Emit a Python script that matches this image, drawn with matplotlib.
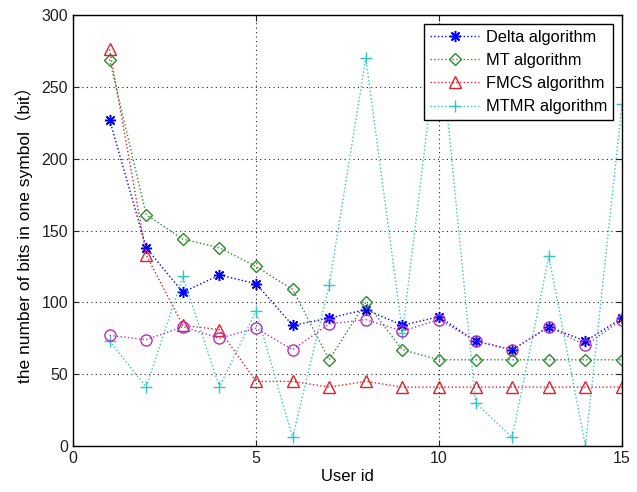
import matplotlib
matplotlib.use("Agg")
import matplotlib.pyplot as plt

user_ids = list(range(1, 16))

delta = [227, 138, 107, 119, 113, 84, 89, 95, 84, 90, 73, 67, 83, 73, 89]
mt = [269, 161, 144, 138, 125, 109, 60, 100, 67, 60, 60, 60, 60, 60, 60]
fmcs = [276, 133, 84, 81, 45, 45, 41, 45, 41, 41, 41, 41, 41, 41, 41]
mtmr = [73, 41, 118, 41, 94, 6, 112, 270, 79, 290, 30, 6, 132, 0, 238]
extra = [77, 74, 83, 75, 82, 67, 85, 88, 80, 88, 73, 67, 83, 70, 88]

series_names = ["Delta algorithm", "MT algorithm", "FMCS algorithm", "MTMR algorithm"]
x_ticks = [0, 5, 10, 15]
y_ticks = [0, 50, 100, 150, 200, 250, 300]

plt.rcParams["font.family"] = ["Liberation Sans", "Noto Sans CJK SC", "DejaVu Sans"]

fig = plt.figure(figsize=(6.37, 4.92), dpi=100)
ax = fig.add_axes([0.1146, 0.0935, 0.8619, 0.876])

asterisk = (8, 2, 0)
ax.plot(user_ids, delta, linestyle=":", color="#0000ff", marker=asterisk, markersize=8,
        markeredgewidth=1.1, linewidth=1, label=series_names[0])
ax.plot(user_ids, mt, linestyle=":", color="#2e8b2e", marker="D", markersize=6,
        markerfacecolor="none", linewidth=1, label=series_names[1])
ax.plot(user_ids, fmcs, linestyle=":", color="#e0202a", marker="^", markersize=9,
        markerfacecolor="none", linewidth=1, label=series_names[2])
ax.plot(user_ids, mtmr, linestyle=":", color="#33c4c4", marker="+", markersize=9,
        linewidth=1, label=series_names[3])
ax.plot(user_ids, extra, linestyle=":", color="#b030c0", marker="o", markersize=8,
        markerfacecolor="none", linewidth=1)

ax.set_xlim(0, 15)
ax.set_ylim(0, 300)
ax.set_xticks(x_ticks)
ax.set_yticks(y_ticks)
ax.tick_params(direction="in", length=4, labelsize=11.5, colors="#222222", top=True, right=True)
ax.grid(True, linestyle=(0, (1, 3)), color="#222222", linewidth=0.8)
for s in ax.spines.values():
    s.set_linewidth(1.0)

ax.set_xlabel("User id", fontsize=12, labelpad=2)
ax.set_ylabel("the number of bits in one symbol（bit）", fontsize=12.5, labelpad=6)

leg = ax.legend(loc="upper right", fontsize=11.8, frameon=True, fancybox=False,
                edgecolor="black", framealpha=1, borderpad=0.35, labelspacing=0.5,
                handlelength=3.0, handletextpad=0.4, borderaxespad=0.55)
leg.get_frame().set_linewidth(1.0)

fig.savefig("out.png", dpi=100)
